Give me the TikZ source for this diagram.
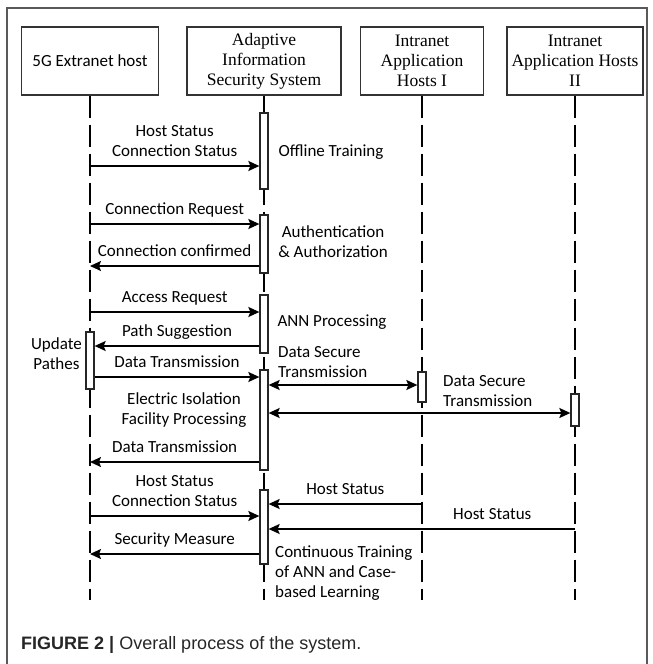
\documentclass[tikz,border=0pt]{standalone}
\usepackage{fontspec}
\setmainfont{Carlito}
\newfontfamily\headfont{Liberation Serif}
\newfontfamily\capfont{Liberation Sans}
\usetikzlibrary{arrows.meta}

\begin{document}
\begin{tikzpicture}[x=1pt, y=-1pt,
    head/.style={draw=black!80, line width=1.3pt, minimum height=68pt, align=center, inner sep=2pt, font=\headfont\fontsize{17.5}{20}\selectfont},
    act/.style={draw=black!85, fill=white, line width=1.3pt, minimum width=8pt, inner sep=0pt},
    life/.style={line width=2pt, dash pattern=on 22pt off 7pt},
    msg/.style={line width=1.6pt, -{Stealth[length=11pt, width=10pt, inset=2pt]}},
    dmsg/.style={line width=1.6pt, {Stealth[length=11pt, width=10pt, inset=2pt]}-{Stealth[length=11pt, width=10pt, inset=2pt]}},
    lbl/.style={font=\fontsize{17}{20}\selectfont, align=center, inner sep=2pt, text depth=4pt, above=3pt},
    note/.style={font=\fontsize{17}{20}\selectfont, inner sep=0pt}]
    \useasboundingbox (0,0) rectangle (653,664);
    % frame
    \draw[gray!70!black, line width=1.5pt] (7,664) -- (7,8) -- (647,8) -- (647,664);

    % participants
    \node[head, minimum width=137pt, font=\fontsize{17}{20}\selectfont] (ext) at (90,61) {5G Extranet host};
    \node[head, minimum width=154pt] (ais) at (264,61) {Adaptive\\Information\\Security System};
    \node[head, minimum width=123pt] (iah1) at (422,61) {Intranet\\Application\\Hosts I};
    \node[head, minimum width=136pt] (iah2) at (575,61) {Intranet\\Application Hosts\\II};

    % lifelines
    \coordinate (extEnd) at (90,600);
    \coordinate (aisEnd) at (264,600);
    \coordinate (iah1End) at (422,600);
    \coordinate (iah2End) at (575,600);
    \draw[life] (ext) -- (extEnd);
    \draw[life] (ais) -- (aisEnd);
    \draw[life] (iah1) -- (iah1End);
    \draw[life] (iah2) -- (iah2End);

    % activations
    \node[act, minimum height=76pt] (actA) at (264,151) {};
    \node[act, minimum height=58pt] (actB) at (264,244) {};
    \node[act, minimum height=58pt] (actC) at (264,324) {};
    \node[act, minimum height=100pt] (actD) at (264,420) {};
    \node[act, minimum height=74pt] (actE) at (264,527) {};
    \node[act, minimum height=57pt] (upd) at (90,360.5) {};
    \node[act, minimum height=30pt] (h1act) at (422,387) {};
    \node[act, minimum height=32pt] (h2act) at (575,410) {};

    % message points
    \coordinate (m1) at (90,166);
    \coordinate (m2) at (90,224);
    \coordinate (m3) at (90,266);
    \coordinate (m4) at (90,312);
    \coordinate (m5) at (90,346);
    \coordinate (m6) at (90,377);
    \coordinate (m7) at (90,385);
    \coordinate (m8) at (90,413);
    \coordinate (m9) at (90,462);
    \coordinate (m10) at (90,516);
    \coordinate (m11) at (422,504);
    \coordinate (m12) at (575,529);
    \coordinate (m13) at (90,554);

    % messages
    \draw[msg] (m1) -- (m1 -| actA.west) node[lbl, midway] {Host Status\\Connection Status};
    \draw[msg] (m2) -- (m2 -| actB.west) node[lbl, midway] {Connection Request};
    \draw[msg] (m3 -| actB.west) -- (m3) node[lbl, midway] {Connection confirmed};
    \draw[msg] (m4) -- (m4 -| actC.west) node[lbl, midway] {Access Request};
    \draw[msg] (m5 -| actC.west) -- (m5 -| upd.east) node[lbl, midway] {Path Suggestion};
    \draw[msg] (m6 -| upd.east) -- (m6 -| actD.west) node[lbl, midway] {Data Transmission};
    \draw[dmsg] (m7 -| actD.east) -- (m7 -| h1act.west);
    \draw[dmsg] (m8 -| actD.east) -- (m8 -| h2act.west);
    \draw[msg] (m9 -| actD.west) -- (m9) node[lbl, midway] {Data Transmission};
    \draw[msg] (m10) -- (m10 -| actE.west) node[lbl, midway] {Host Status\\Connection Status};
    \draw[msg] (m11) -- (m11 -| actE.east) node[lbl, midway] {Host Status};
    \draw[msg] (m12) -- (m12 -| actE.east) node[lbl, pos=0.27] {Host Status};
    \draw[msg] (m13 -| actE.west) -- (m13) node[lbl, midway] {Security Measure};

    % notes
    \node[note] (offline) at (331,152) {Offline Training};
    \node[note, align=center] (auth) at (333,242) {Authentication\\\& Authorization};
    \node[note] (ann) at (332,322) {ANN Processing};
    \node[note, align=left, anchor=west] (secA) at (278,362) {Data Secure\\Transmission};
    \node[note, align=left, anchor=west] (secB) at (443,391) {Data Secure\\Transmission};
    \node[note, align=center] (iso) at (184,410) {Electric Isolation\\Facility Processing};
    \node[note, align=center, anchor=east] (upath) at (82,354) {Update\\Pathes};
    \node[note, align=left, anchor=west] (cont) at (275,573) {Continuous Training\\of ANN and Case-\\based Learning};

    % caption
    \node[anchor=west, inner sep=0pt, font=\capfont\fontsize{18}{20}\selectfont, text=black!85] (cap) at (21,645) {\textbf{FIGURE 2 |} Overall process of the system.};
\end{tikzpicture}
\end{document}
